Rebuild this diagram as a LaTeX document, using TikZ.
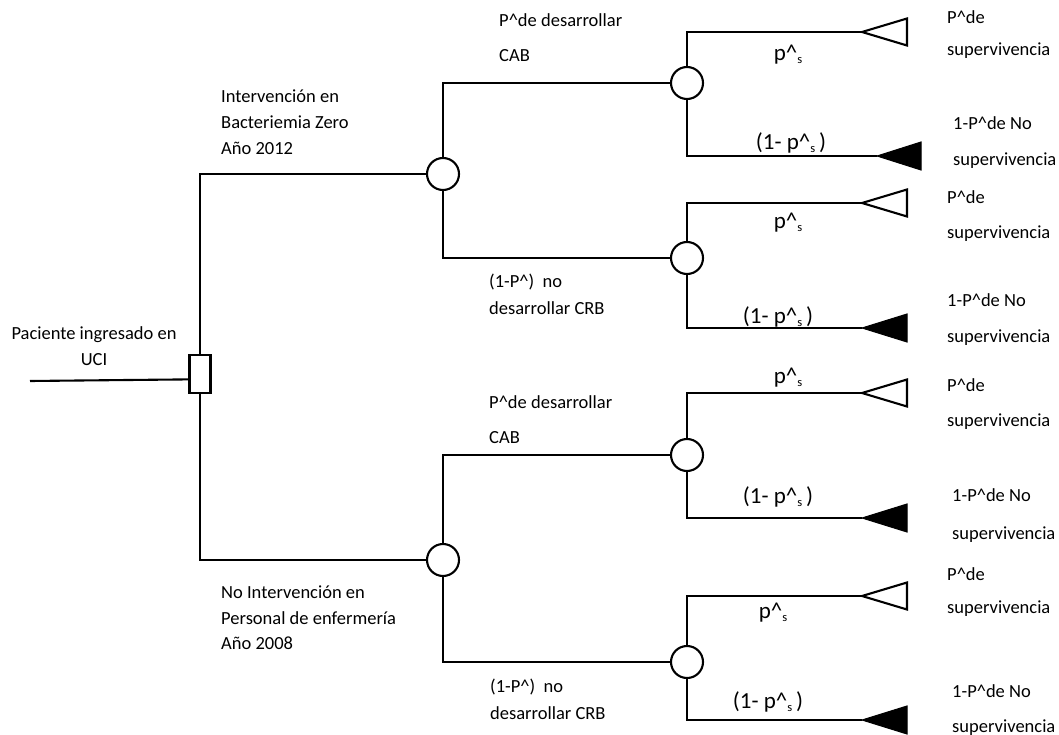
\documentclass[tikz,border=0pt]{standalone}
\usepackage{fontspec}
\setmainfont{Carlito}
\newcommand{\psub}{p\textasciicircum\raisebox{-3pt}{\fontsize{12.5}{12.5}\selectfont s}}
\newcommand{\crt}{\textasciicircum}
\begin{document}
\begin{tikzpicture}[x=1pt,y=-1pt,
  edge/.style={line width=2.1pt},
  chance/.style={circle, draw, line width=2.1pt, fill=white, minimum size=32pt, inner sep=0pt},
  decbox/.style={rectangle, draw, line width=2.1pt, fill=white, minimum width=21pt, minimum height=38pt, inner sep=0pt},
  wtri/.style={draw, line width=2.1pt, fill=white, line join=miter},
  btri/.style={draw, line width=1pt, fill=black, line join=miter},
  lbl/.style={font=\fontsize{18.5}{26}\selectfont, inner sep=0pt, align=left, anchor=west},
  rlbl/.style={font=\fontsize{18.5}{34}\selectfont, inner sep=0pt, align=left, anchor=west},
  plbl/.style={font=\fontsize{23}{23}\selectfont, inner sep=0pt}]
\useasboundingbox (0,0) rectangle (1059,735);

% nodes
\node[decbox] (box) at (200,374) {};
\node[chance] (c1) at (443,174) {};
\node[chance] (c4) at (443,560) {};
\node[chance] (c2) at (687,83) {};
\node[chance] (c3) at (687,258) {};
\node[chance] (c5) at (687,455) {};
\node[chance] (c6) at (687,662) {};

\coordinate (in) at (30,381);
\coordinate (w2) at (862,32);
\coordinate (b2) at (877,156);
\coordinate (w3) at (862,203);
\coordinate (b3) at (862,328);
\coordinate (w5) at (862,393);
\coordinate (b5) at (862,518);
\coordinate (w6) at (862,596);
\coordinate (b6) at (862,720);

% connectors
\draw[edge] (in) -- (box.205);
\draw[edge] (box.north) |- (c1.west);
\draw[edge] (box.south) |- (c4.west);
\draw[edge] (c1.north) |- (c2.west);
\draw[edge] (c1.south) |- (c3.west);
\draw[edge] (c4.north) |- (c5.west);
\draw[edge] (c4.south) |- (c6.west);
\draw[edge] (c2.north) |- (w2);
\draw[edge] (c2.south) |- (b2);
\draw[edge] (c3.north) |- (w3);
\draw[edge] (c3.south) |- (b3);
\draw[edge] (c5.north) |- (w5);
\draw[edge] (c5.south) |- (b5);
\draw[edge] (c6.north) |- (w6);
\draw[edge] (c6.south) |- (b6);

% terminal triangles
\draw[wtri] (w2) -- ++(45,-13.5) -- ++(0,27) -- cycle;
\draw[btri] (b2) -- ++(44,-14) -- ++(0,28) -- cycle;
\draw[wtri] (w3) -- ++(45,-13.5) -- ++(0,27) -- cycle;
\draw[btri] (b3) -- ++(45,-14) -- ++(0,28) -- cycle;
\draw[wtri] (w5) -- ++(45,-13.5) -- ++(0,27) -- cycle;
\draw[btri] (b5) -- ++(45,-14) -- ++(0,28) -- cycle;
\draw[wtri] (w6) -- ++(45,-13.5) -- ++(0,27) -- cycle;
\draw[btri] (b6) -- ++(45,-14) -- ++(0,28) -- cycle;

% left labels
\node[lbl, align=center, anchor=center] (lpac) at (94,346) {Paciente ingresado en\\UCI};
\node[lbl] (lint) at (221,122) {Intervención en\\Bacteriemia Zero\\Año 2012};
\node[lbl, font=\fontsize{18.5}{25.5}\selectfont] (lnoint) at (221,618) {No Intervención en\\Personal de enfermería\\Año 2008};

% branch labels
\node[lbl, font=\fontsize{18.5}{35}\selectfont] (lcab1) at (499,38) {P\crt de desarrollar\\CAB};
\node[lbl, font=\fontsize{18.5}{27}\selectfont] (lcrb1) at (489,294) {(1-P\crt)\ \ no\\desarrollar CRB};
\node[lbl, font=\fontsize{18.5}{35}\selectfont] (lcab2) at (489,420) {P\crt de desarrollar\\CAB};
\node[lbl, font=\fontsize{18.5}{27}\selectfont] (lcrb2) at (490,699) {(1-P\crt)\ \ no\\desarrollar CRB};

% probability labels
\node[plbl] (p2u) at (788,55) {\psub};
\node[plbl] (p2d) at (791,143) {(1- \psub\,)};
\node[plbl] (p3u) at (788,223) {\psub};
\node[plbl] (p3d) at (778,317) {(1- \psub\,)};
\node[plbl] (p5u) at (788,378) {\psub};
\node[plbl] (p5d) at (778,497) {(1- \psub\,)};
\node[plbl] (p6u) at (773,613) {\psub};
\node[plbl] (p6d) at (768,702) {(1- \psub\,)};

% outcome labels
\node[rlbl, font=\fontsize{18.5}{32}\selectfont] (o2u) at (947,35) {P\crt de\\supervivencia};
\node[rlbl, font=\fontsize{18.5}{36}\selectfont] (o2d) at (953,143) {1-P\crt de No\\supervivencia};
\node[rlbl, font=\fontsize{18.5}{35}\selectfont] (o3u) at (947,216) {P\crt de\\supervivencia};
\node[rlbl, font=\fontsize{18.5}{36}\selectfont] (o3d) at (947,320) {1-P\crt de No\\supervivencia};
\node[rlbl, font=\fontsize{18.5}{35}\selectfont] (o5u) at (947,404) {P\crt de\\supervivencia};
\node[rlbl, font=\fontsize{18.5}{38}\selectfont] (o5d) at (952,516) {1-P\crt de No\\supervivencia};
\node[rlbl, font=\fontsize{18.5}{33}\selectfont] (o6u) at (947,592) {P\crt de\\supervivencia};
\node[rlbl, font=\fontsize{18.5}{35}\selectfont] (o6d) at (952,710) {1-P\crt de No\\supervivencia};
\end{tikzpicture}
\end{document}
